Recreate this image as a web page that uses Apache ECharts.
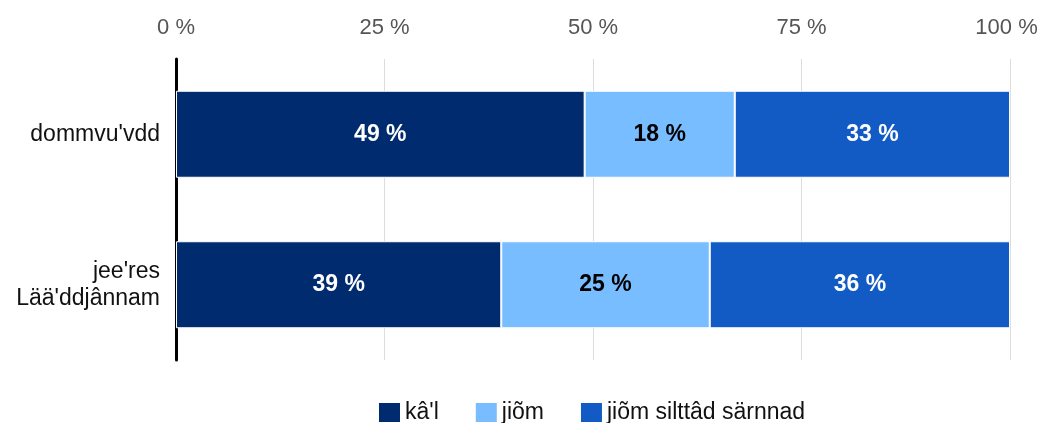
<!DOCTYPE html>
<html>
<head>
<meta charset="utf-8">
<script src="https://cdn.jsdelivr.net/npm/echarts@6/dist/echarts.min.js"></script>
<style>
html, body { margin: 0; padding: 0; background: #fff; }
#chart { width: 1040px; height: 423px; }
</style>
</head>
<body>
<div id="chart"></div>
<script>
let categories = ["dommvu'vdd", "jee'res\nLää'ddjânnam"]
let seriesNames = ["kâ'l", "jiõm", "jiõm silttâd särnnad"]
let kal = [49, 39]
let jiom = [18, 25]
let silttad = [33, 36]
let colors = ['#002b6f', '#78bdff', '#125bc4']
let labelColors = ['#ffffff', '#000000', '#ffffff']

let mychart = echarts.init(document.getElementById('chart'))
let values = [kal, jiom, silttad]
let series = values.map((vals, i) => ({
    name: seriesNames[i],
    type: 'bar',
    stack: 'total',
    data: vals,
    barWidth: 87,
    itemStyle: { color: colors[i], borderColor: '#ffffff', borderWidth: 1 },
    label: {
        show: true,
        position: 'inside',
        formatter: '{c} %',
        color: labelColors[i],
        fontSize: 23,
        fontWeight: 'bold',
        fontFamily: 'Liberation Sans'
    }
}))

let options = {
    animation: false,
    textStyle: { fontFamily: 'Liberation Sans' },
    grid: { left: 176, right: 30, top: 59, bottom: 63, containLabel: false, outerBoundsMode: 'none' },
    legend: {
        top: 401,
        left: 377,
        padding: 0,
        itemWidth: 23,
        itemHeight: 21,
        itemGap: 35,
        icon: 'rect',
        textStyle: { fontSize: 23, color: '#111', fontFamily: 'Liberation Sans', padding: [0, 0, 0, -1] },
        data: seriesNames
    },
    xAxis: {
        type: 'value',
        position: 'top',
        min: 0,
        max: 100,
        interval: 25,
        axisLine: { show: false },
        axisTick: { show: false },
        axisLabel: {
            // last label sits a bit left of its grid line so it stays inside
            formatter: v => v === 100 ? '{e|100 %}' : v + ' %',
            fontSize: 22,
            color: '#555',
            margin: 20,
            rich: { e: { fontSize: 22, color: '#555', padding: [0, 7, 0, 0] } }
        },
        splitLine: { lineStyle: { color: '#dddddd', width: 1 } }
    },
    yAxis: {
        type: 'category',
        inverse: true,
        data: categories,
        axisLine: { show: true, lineStyle: { color: '#000', width: 3 } },
        axisTick: { show: false },
        axisLabel: { fontSize: 23, color: '#111', margin: 16, lineHeight: 27, align: 'right' }
    },
    series: series
}
mychart.setOption(options)
</script>
</body>
</html>
